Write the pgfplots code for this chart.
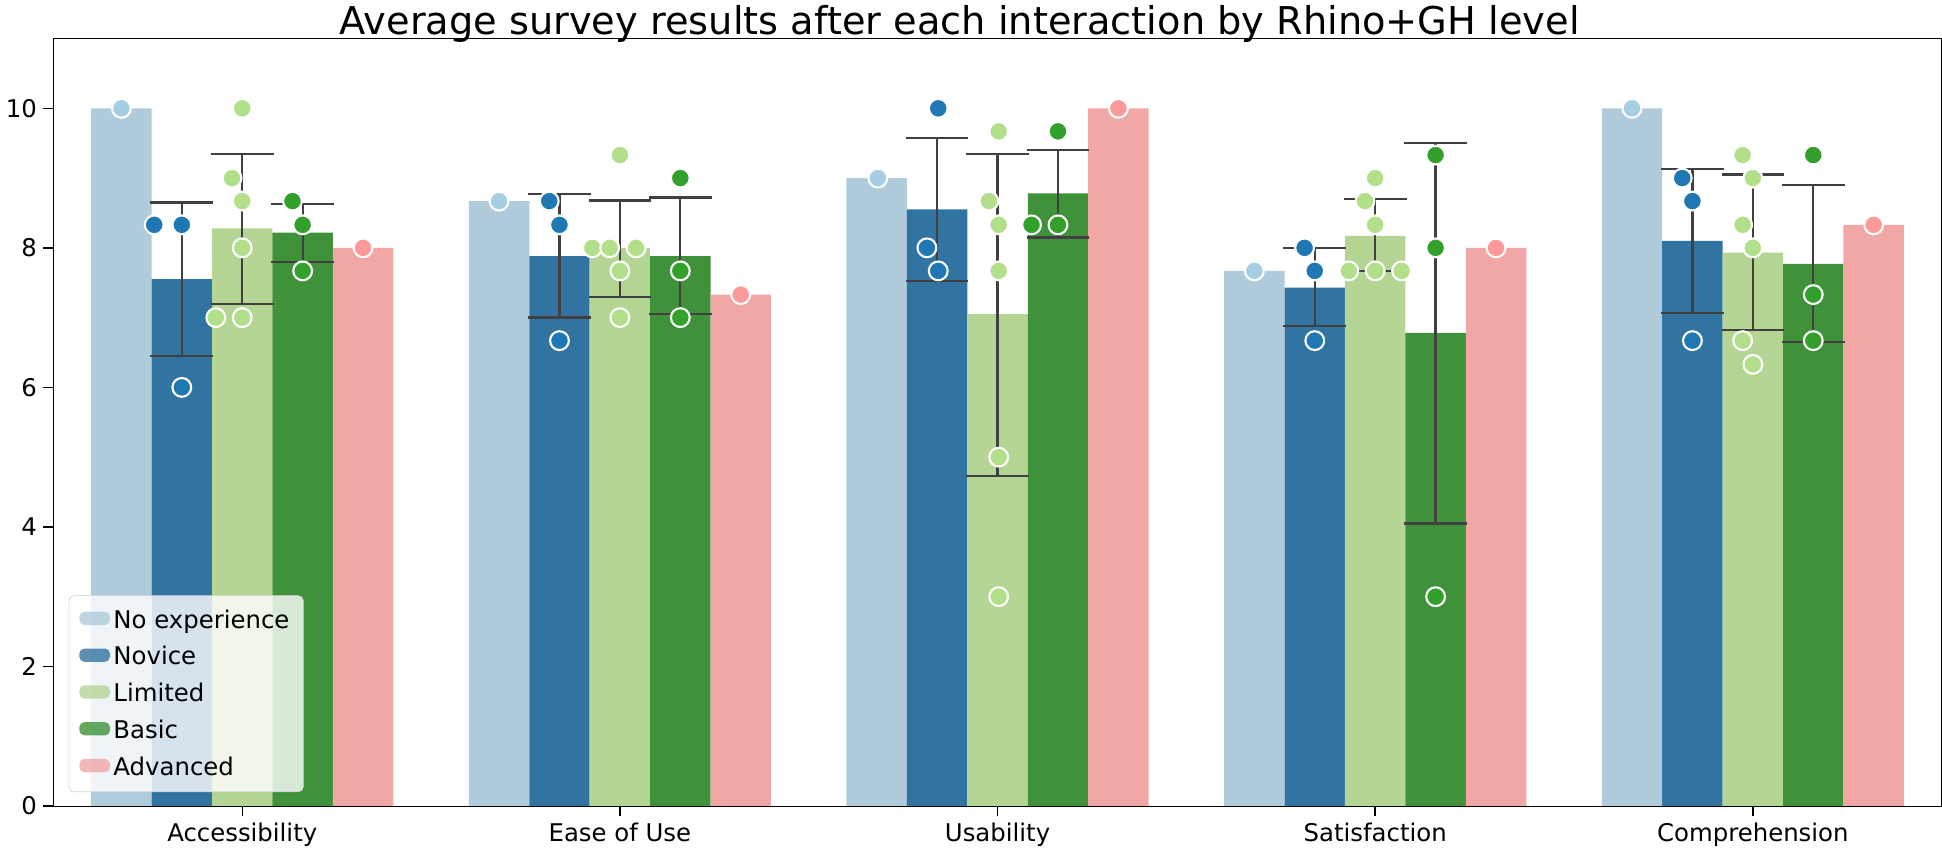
\documentclass[border=0pt]{standalone}
\usepackage{pgfplots}
\pgfplotsset{compat=1.18}
\usepackage{fontspec}
\setmainfont{DejaVu Sans}
\definecolor{c1}{HTML}{AFCBDC}\definecolor{c2}{HTML}{3274A1}\definecolor{c3}{HTML}{B4D594}\definecolor{c4}{HTML}{3F923A}\definecolor{c5}{HTML}{F0A7A6}
\definecolor{p1}{HTML}{A6CEE3}\definecolor{p2}{HTML}{1F78B4}\definecolor{p3}{HTML}{B2DF8A}\definecolor{p4}{HTML}{33A02C}\definecolor{p5}{HTML}{FB9A99}
\begin{document}
\begin{tikzpicture}
\begin{axis}[scale only axis, width=15.01in, height=6.10in,
 xmin=-0.5, xmax=4.5, ymin=0, ymax=11,
 xtick={0,1,2,3,4}, xticklabels={Accessibility,Ease of Use,Usability,Satisfaction,Comprehension},
 ytick={0,2,4,6,8,10}, tick align=outside, xtick pos=bottom, ytick pos=left,
 major tick length=6pt, tick style={black, line width=0.8pt},
 tick label style={font=\fontsize{14}{16}\selectfont},
 /pgf/number format/assume math mode=true,
 title={Average survey results after each interaction by Rhino+GH level},
 title style={font=\fontsize{22}{25}\selectfont, at={(0.48,1)}, yshift=-12pt},
 legend style={at={(0.008,0.018)}, anchor=south west, font=\fontsize{14}{17}\selectfont, draw=gray!35, fill=white, fill opacity=0.8, text opacity=1, rounded corners=3pt, row sep=5pt, inner xsep=6pt, inner ysep=6pt},
 legend cell align=left,
 legend image code/.code={\fill[#1] (0cm,-0.1cm) rectangle (0.62cm,0.17cm);},
]
\addplot[ybar, bar width=0.16, bar shift=-0.32, fill=c1, draw=none] coordinates {(0,10)(1,8.67)(2,9)(3,7.67)(4,10)};
\addplot[ybar, bar width=0.16, bar shift=-0.16, fill=c2, draw=none] coordinates {(0,7.55)(1,7.88)(2,8.55)(3,7.43)(4,8.1)};
\addplot[ybar, bar width=0.16, bar shift=0, fill=c3, draw=none] coordinates {(0,8.28)(1,8.0)(2,7.05)(3,8.17)(4,7.93)};
\addplot[ybar, bar width=0.16, bar shift=0.16, fill=c4, draw=none] coordinates {(0,8.22)(1,7.88)(2,8.78)(3,6.78)(4,7.77)};
\addplot[ybar, bar width=0.16, bar shift=0.32, fill=c5, draw=none] coordinates {(0,8.0)(1,7.33)(2,10)(3,8.0)(4,8.33)};
\legend{No experience,Novice,Limited,Basic,Advanced}
\pgfplotsset{every axis plot/.append style={forget plot}}
\addplot[draw=none, mark=none, error bars/.cd, y dir=both, y explicit, error bar style={color=black!75, line width=1.3pt}, error mark options={rotate=90, mark size=18pt, color=black!75, line width=1.3pt}]
coordinates {
(-0.16,7.55) += (0,1.10) -= (0,1.10)
(0,8.28) += (0,1.07) -= (0,1.08)
(0.16,8.22) += (0,0.41) -= (0,0.42)
(0.84,7.88) += (0,0.89) -= (0,0.88)
(1,8.0) += (0,0.68) -= (0,0.70)
(1.16,7.88) += (0,0.84) -= (0,0.83)
(1.84,8.55) += (0,1.02) -= (0,1.03)
(2,7.05) += (0,2.30) -= (0,2.32)
(2.16,8.78) += (0,0.62) -= (0,0.63)
(2.84,7.43) += (0,0.57) -= (0,0.55)
(3,8.17) += (0,0.53) -= (0,0.50)
(3.16,6.78) += (0,2.72) -= (0,2.73)
(3.84,8.1) += (0,1.03) -= (0,1.03)
(4,7.93) += (0,1.12) -= (0,1.11)
(4.16,7.77) += (0,1.13) -= (0,1.12)
};
\pgfplotsset{every axis plot/.append style={only marks, mark=*, mark size=5.4pt}}
\addplot[mark options={fill=p1, draw=white, line width=1.2pt}] coordinates {(-0.32,10)(0.68,8.67)(1.683,9)(2.68,7.67)(3.68,10)};
\addplot[mark options={fill=p2, draw=white, line width=1.2pt}] coordinates {(-0.233,8.33)(-0.16,8.33)(-0.16,6)(0.813,8.67)(0.84,8.33)(0.84,6.67)(1.843,10)(1.813,8)(1.843,7.67)(2.813,8)(2.84,7.67)(2.84,6.67)(3.813,9)(3.84,8.67)(3.84,6.67)};
\addplot[mark options={fill=p3, draw=white, line width=1.2pt}] coordinates {(-0.027,9)(0,10)(0,8.67)(0,8)(-0.07,7)(0,7)(1,9.33)(0.927,8)(0.973,8)(1.043,8)(1,7.67)(1,7)(2.003,9.67)(1.977,8.67)(2.003,8.33)(2.003,7.67)(2.003,5)(2.003,3)(3,9)(2.973,8.67)(3,8.33)(2.93,7.67)(3,7.67)(3.07,7.67)(3.973,9.33)(4,9)(3.973,8.33)(4,8)(3.973,6.67)(4,6.33)};
\addplot[mark options={fill=p4, draw=white, line width=1.2pt}] coordinates {(0.133,8.67)(0.16,8.33)(0.16,7.67)(1.16,9)(1.16,7.67)(1.16,7)(2.16,9.67)(2.09,8.33)(2.16,8.33)(3.16,9.33)(3.16,8)(3.16,3)(4.16,9.33)(4.16,7.33)(4.16,6.67)};
\addplot[mark options={fill=p5, draw=white, line width=1.2pt}] coordinates {(0.32,8)(1.32,7.33)(2.32,10)(3.32,8)(4.32,8.33)};
\end{axis}
\end{tikzpicture}
\end{document}
